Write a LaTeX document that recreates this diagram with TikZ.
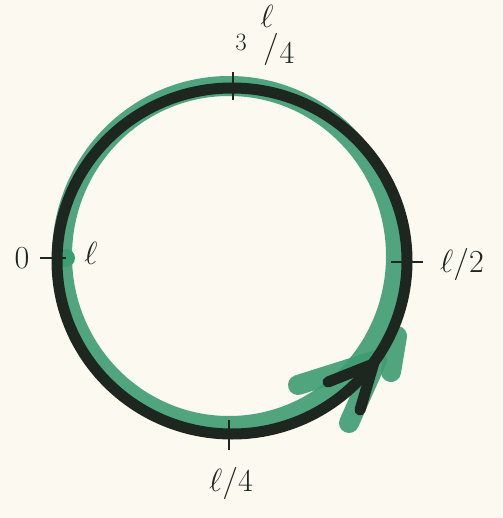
\documentclass[tikz,border=0pt]{standalone}
\usetikzlibrary{calc}
\definecolor{paper}{RGB}{252,249,241}
\definecolor{greenink}{RGB}{62,156,114}
\definecolor{blackink}{RGB}{30,38,32}
\begin{document}
\begin{tikzpicture}[x=1pt,y=-1pt,
  ink/.style={draw=blackink,line width=11pt},
  wash/.style={draw=greenink,line width=20pt,line cap=round,line join=round,opacity=0.9},
  tickmark/.style={draw=blackink,line width=2.2pt},
  lab/.style={text=blackink,inner sep=0pt,font=\Huge,scale=1.29},
  smalllab/.style={text=blackink,inner sep=0pt,font=\Huge,scale=1.0}]
\fill[paper] (0,0) rectangle (502,518);
\useasboundingbox (0,0) rectangle (502,518);
\coordinate (C) at (232,261);
\coordinate (G) at (229,256);
% tick positions
\coordinate (t0a) at (40,258);  \coordinate (t0b) at (66,258);
\coordinate (t3a) at (233,72);  \coordinate (t3b) at (233,100);
\coordinate (t2a) at (391,262); \coordinate (t2b) at (423,262);
\coordinate (t1a) at (229,420); \coordinate (t1b) at (229,450);
% arrow
\coordinate (tip) at ($(C)+(36:175)$);
\coordinate (bu) at (328,382);
\coordinate (bl) at (360,410);
\coordinate (tipg) at (377,360);
\coordinate (gu) at (298,385);
\coordinate (gl) at (349,423);
\coordinate (ga) at (397,336);
\coordinate (gb) at (391,372);
\coordinate (gs) at (66,258);
% green wash
\draw[wash] (G) ellipse [x radius=167, y radius=170];
\draw[wash] (gu) -- (tipg) -- (gl);
\draw[wash] (ga) -- (gb);
\fill[greenink] (gs) circle (9);
% black line
\draw[ink] (C) ellipse [x radius=175, y radius=173];
\draw[ink,line cap=round,line join=round] (bu) -- (tip) -- (bl);
% ticks
\draw[tickmark] (t0a) -- (t0b);
\draw[tickmark] (t3a) -- (t3b);
\draw[tickmark] (t2a) -- (t2b);
\draw[tickmark] (t1a) -- (t1b);
% labels
\node[lab] (l0) at (22,258) {$0$};
\node[lab] (lend) at (91,253) {$\ell$};
\node[lab] (lhalf) at (462,264) {$\ell/2$};
\node[lab] (lquarter) at (231,483) {$\ell/4$};
\node[smalllab] (lthree) at (241,42) {3};
\node[lab,anchor=south] (lthreeell) at (267,28) {$\ell$};
\node[lab] (lthreeslash) at (271,49) {$/$};
\node[lab] (lthreefour) at (287,53) {$4$};
\end{tikzpicture}
\end{document}
